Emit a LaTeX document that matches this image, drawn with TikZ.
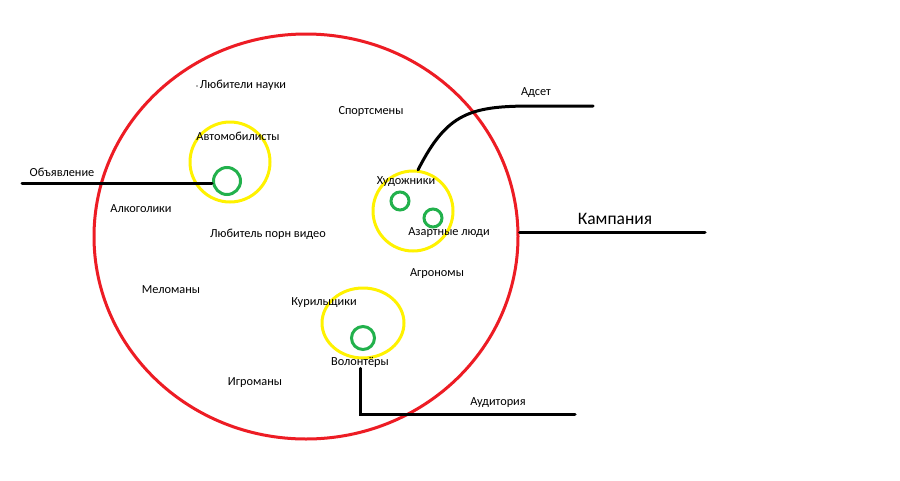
\documentclass[tikz,border=0pt]{standalone}
\usepackage{fontspec}
\setmainfont{Carlito}
\usetikzlibrary{shapes.geometric}
\definecolor{paintred}{RGB}{237,28,36}
\definecolor{paintyellow}{RGB}{255,242,0}
\definecolor{paintgreen}{RGB}{34,177,76}
\begin{document}
\begin{tikzpicture}[x=1pt,y=-1pt,
    label/.style={inner sep=1pt,font=\fontsize{12.3}{14}\selectfont},
    ring/.style={draw=#1,line width=3pt,inner sep=0pt},
    wire/.style={line width=3pt,line cap=round}]
  \useasboundingbox[fill=white] (0,0) rectangle (900,480);

  % Audience (campaign border).
  \node[ring=paintred,ellipse,minimum width=424pt,minimum height=405pt] (aud) at (306,236.5) {};

  % Ad sets.
  \node[ring=paintyellow,circle,minimum size=80pt] (setA) at (230,162) {};
  \node[ring=paintyellow,circle,minimum size=80pt] (setB) at (413,211) {};
  \node[ring=paintyellow,ellipse,minimum width=82pt,minimum height=70pt] (setC) at (363,323) {};

  % Ads.
  \node[ring=paintgreen,circle,minimum size=27pt] (adA) at (227,181) {};
  \node[ring=paintgreen,circle,minimum size=18pt] (adB) at (400,201) {};
  \node[ring=paintgreen,circle,minimum size=18pt] (adC) at (433,218) {};
  \node[ring=paintgreen,circle,minimum size=23pt] (adD) at (363,338) {};

  % Interests.
  \fill[black!60] (197,86) circle (0.8);
  \node[label] (science) at (243,85) {Любители науки};
  \node[label] (sport) at (371,111) {Спортсмены};
  \node[label] (cars) at (238,136) {Автомобилисты};
  \node[label] (alco) at (141,209) {Алкоголики};
  \node[label] (art) at (406,182) {Художники};
  \node[label] (video) at (268,234) {Любитель порн видео};
  \node[label] (gamble) at (449,233) {Азартные люди};
  \node[label] (agro) at (437,274) {Агрономы};
  \node[label] (music) at (171,290) {Меломаны};
  \node[label] (smoke) at (324,303) {Курильщики};
  \node[label] (volunteer) at (360,362) {Волонтёры};
  \node[label] (games) at (255,383) {Игроманы};

  % Callouts.
  \coordinate (adEnd) at (22,183);
  \coordinate (setEnd) at (593,106);
  \coordinate (campEnd) at (705,232);
  \coordinate (audEnd) at (575,414);

  \draw[wire] (adEnd) -- (adEnd -| adA.west);
  \node[label] (adText) at (62,172) {Объявление};

  \draw[wire] (setB.83) .. controls +(29,-57) and +(-63,0) .. (533,106) -- (setEnd);
  \node[label] (setText) at (536,93) {Адсет};

  \draw[wire] (aud.east |- campEnd) -- (campEnd);
  \node[label,font=\fontsize{17.5}{20}\selectfont] (campText) at (615,219) {Кампания};

  \draw[wire] (volunteer.south) |- (audEnd);
  \node[label] (audText) at (498,403) {Аудитория};
\end{tikzpicture}
\end{document}
